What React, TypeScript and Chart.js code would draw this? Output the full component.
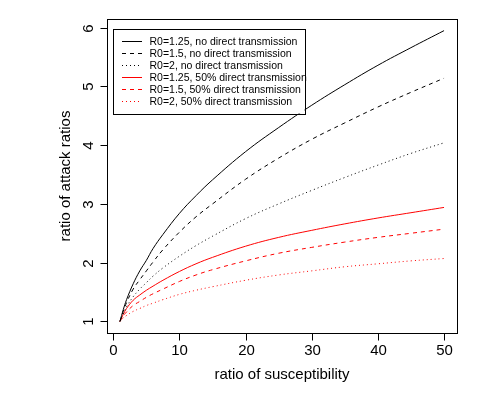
import React, { useEffect, useRef } from "react";
import { Chart, registerables } from "chart.js";

Chart.register(...registerables);

const xValues = [1, 1.5, 2, 3, 4, 5, 6, 7.5, 10, 12.5, 15, 20, 25, 30, 35, 40, 45, 50];
const r125NoDirect = [1, 1.2, 1.37, 1.64, 1.86, 2.04, 2.24, 2.48, 2.84, 3.14, 3.41, 3.89, 4.3, 4.68, 5.03, 5.36, 5.66, 5.95];
const r15NoDirect = [1, 1.17, 1.32, 1.55, 1.71, 1.86, 2.01, 2.22, 2.52, 2.78, 3.0, 3.42, 3.78, 4.1, 4.38, 4.65, 4.9, 5.14];
const r2NoDirect = [1, 1.13, 1.25, 1.42, 1.55, 1.66, 1.77, 1.91, 2.11, 2.29, 2.45, 2.75, 3.0, 3.23, 3.45, 3.66, 3.86, 4.04];
const r125Direct = [1, 1.12, 1.22, 1.36, 1.45, 1.53, 1.6, 1.7, 1.85, 1.98, 2.09, 2.28, 2.43, 2.55, 2.66, 2.76, 2.85, 2.94];
const r15Direct = [1, 1.09, 1.16, 1.27, 1.34, 1.41, 1.47, 1.55, 1.68, 1.79, 1.88, 2.03, 2.16, 2.26, 2.35, 2.43, 2.5, 2.57];
const r2Direct = [1, 1.06, 1.1, 1.17, 1.22, 1.27, 1.31, 1.37, 1.46, 1.53, 1.59, 1.7, 1.79, 1.86, 1.93, 1.98, 2.03, 2.07];

const seriesLabels = [
  "R0=1.25, no direct transmission",
  "R0=1.5, no direct transmission",
  "R0=2, no direct transmission",
  "R0=1.25, 50% direct transmission",
  "R0=1.5, 50% direct transmission",
  "R0=2, 50% direct transmission",
];
const seriesValues = [r125NoDirect, r15NoDirect, r2NoDirect, r125Direct, r15Direct, r2Direct];
const seriesColors = ["rgb(0,0,0)", "rgb(0,0,0)", "rgb(0,0,0)", "rgb(255,0,0)", "rgb(255,0,0)", "rgb(255,0,0)"];
const seriesDashes: number[][] = [[], [4, 4], [1, 3], [], [4, 4], [1, 3]];

const xTicks = [0, 10, 20, 30, 40, 50];
const yTicks = [1, 2, 3, 4, 5, 6];
const xTitle = "ratio of susceptibility";
const yTitle = "ratio of attack ratios";

const FONT = '"Liberation Sans", Arial, Helvetica, sans-serif';

const rPlot = {
  id: "rPlot",
  afterDraw(chart: any) {
    const { ctx, chartArea, scales } = chart;
    const xs = scales.x;
    const ys = scales.y;
    const { left, right, top, bottom } = chartArea;
    ctx.save();
    ctx.strokeStyle = "#000";
    ctx.fillStyle = "#000";
    ctx.lineWidth = 1;
    ctx.setLineDash([]);
    ctx.strokeRect(Math.round(left) + 0.5, Math.round(top) + 0.5, Math.round(right - left), Math.round(bottom - top));
    ctx.font = `15px ${FONT}`;
    ctx.textAlign = "center";
    ctx.textBaseline = "alphabetic";
    for (const t of xTicks) {
      const px = Math.round(xs.getPixelForValue(t)) + 0.5;
      ctx.beginPath();
      ctx.moveTo(px, Math.round(bottom) + 0.5);
      ctx.lineTo(px, Math.round(bottom) + 7.5);
      ctx.stroke();
      ctx.fillText(String(t), px, bottom + 22);
    }
    for (const t of yTicks) {
      const py = Math.round(ys.getPixelForValue(t)) + 0.5;
      ctx.beginPath();
      ctx.moveTo(Math.round(left) + 0.5, py);
      ctx.lineTo(Math.round(left) - 6.5, py);
      ctx.stroke();
      ctx.save();
      ctx.translate(left - 14, py);
      ctx.rotate(-Math.PI / 2);
      ctx.fillText(String(t), 0, 0);
      ctx.restore();
    }
    ctx.fillText(xTitle, (left + right) / 2, bottom + 46);
    ctx.save();
    ctx.translate(70, (top + bottom) / 2);
    ctx.rotate(-Math.PI / 2);
    ctx.fillText(yTitle, 0, 0);
    ctx.restore();
    // legend
    const lx = left + 5.5;
    const ly = top + 9.5;
    const lw = 192;
    const lh = 85;
    ctx.fillStyle = "#fff";
    ctx.fillRect(lx, ly, lw, lh);
    ctx.strokeStyle = "#000";
    ctx.strokeRect(Math.round(lx) + 0.5, Math.round(ly) + 0.5, lw, lh);
    ctx.restore();
    seriesLabels.forEach((label, i) => {
      const ry = Math.round(ly + 12 + i * 12) + 0.5;
      ctx.save();
      ctx.lineWidth = 1;
      ctx.setLineDash(seriesDashes[i]);
      ctx.strokeStyle = seriesColors[i];
      ctx.beginPath();
      ctx.moveTo(Math.round(lx + 9), ry);
      ctx.lineTo(Math.round(lx + 29), ry);
      ctx.stroke();
      ctx.restore();
      ctx.save();
      ctx.font = `10.5px ${FONT}`;
      ctx.textAlign = "left";
      ctx.textBaseline = "middle";
      ctx.fillStyle = "#000";
      ctx.fillText(label, lx + 37, ry + 0.5);
      ctx.restore();
    });
  },
};

export default function App() {
  const ref = useRef<HTMLCanvasElement | null>(null);
  useEffect(() => {
    document.body.style.margin = "0";
    if (!ref.current) return;
    const chart = new Chart(ref.current, {
      type: "line",
      data: {
        datasets: seriesValues.map((vals, i) => ({
          label: seriesLabels[i],
          data: vals.map((v, j) => ({ x: xValues[j], y: v })),
          borderColor: seriesColors[i],
          borderDash: seriesDashes[i],
          borderWidth: 1,
          pointRadius: 0,
          fill: false,
          tension: 0.4,
        })),
      },
      options: {
        animation: false,
        responsive: false,
        devicePixelRatio: 1,
        layout: { padding: { left: 107, right: 42, top: 19, bottom: 63 } },
        plugins: { legend: { display: false }, tooltip: { enabled: false } },
        scales: {
          x: { type: "linear", min: -0.96, max: 51.96, display: false },
          y: { type: "linear", min: 0.802, max: 6.148, display: false },
        },
      },
      plugins: [rPlot],
    });
    return () => chart.destroy();
  }, []);
  return (
    <div style={{ width: 499, height: 396, background: "#fff" }}>
      <canvas ref={ref} width={499} height={396} style={{ display: "block" }} />
    </div>
  );
}
